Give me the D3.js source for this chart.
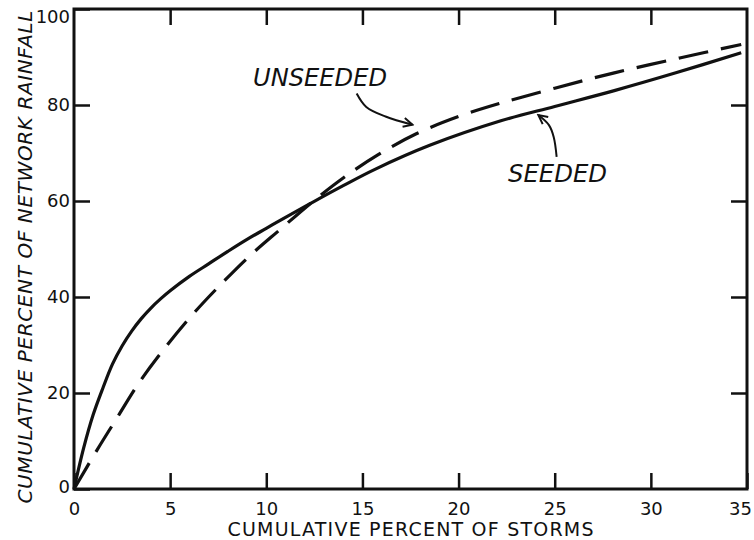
<!DOCTYPE html>
<html>
<head>
<meta charset="utf-8">
<script src="https://cdn.jsdelivr.net/npm/d3@7"></script>
<style>
  body { margin: 0; background: #fff; }
  svg { display: block; }
</style>
</head>
<body>
<div id="chart"></div>
<script>
// data (cumulative % of storms vs cumulative % of rainfall)
const seededX   = [0, 0.5, 1, 1.5, 2, 2.5, 3, 3.5, 4, 4.5, 5, 6, 7, 8, 9, 10, 11, 12.3, 14, 15.65, 18.5, 22.2, 25, 28.1, 31.3, 34.7];
const seededY   = [0, 8.5, 15.5, 21, 26, 29.8, 32.9, 35.5, 37.7, 39.6, 41.3, 44.3, 46.9, 49.5, 52, 54.3, 56.6, 59.5, 63.2, 66.6, 71.6, 76.7, 79.7, 83, 86.7, 90.9];
const unseededX = [0, 1.18, 2.25, 3.43, 4.77, 6.29, 7.85, 9.15, 10.7, 12.3, 14, 15.8, 17.8, 20, 22.2, 25, 28.1, 31.5, 34.7];
const unseededY = [0, 8, 14.9, 22.4, 29.6, 36.9, 43.5, 48.6, 54, 59.5, 64.8, 69.6, 74, 77.6, 80.4, 83.5, 86.7, 89.8, 92.6];

const xTicks = [0, 5, 10, 15, 20, 25, 30, 35];
const yTicks = [0, 20, 40, 60, 80, 100];

// annotation arrows, in data units
const unseededArrow = [[14.7, 82.4], [15.2, 79.6], [16.2, 77.6], [17.6, 75.9]];
const seededArrow   = [[25.1, 69.2], [24.95, 73.3], [24.7, 75.8], [24.15, 77.9]];

const W = 754, H = 540;
const margin = { top: 9, right: 7, bottom: 51, left: 74 };

const svg = d3.select("#chart")
  .append("svg")
  .attr("width", W)
  .attr("height", H);

const x = d3.scaleLinear().domain([0, 35]).range([margin.left, W - margin.right]);
const y = d3.scaleLinear().domain([0, 100]).range([H - margin.bottom, margin.top]);

const ink = "#111";

svg.append("defs").append("marker")
  .attr("id", "head")
  .attr("viewBox", "-10 -6 12 12")
  .attr("refX", 0).attr("refY", 0)
  .attr("markerWidth", 12).attr("markerHeight", 12)
  .attr("markerUnits", "userSpaceOnUse")
  .attr("orient", "auto")
  .append("path")
  .attr("d", "M-9,-4.5L0,0L-9,4.5")
  .attr("fill", "none")
  .attr("stroke", ink)
  .attr("stroke-width", 2);

// axes: ticks point inward on all four sides
const fontTicks = "DejaVu Sans, sans-serif";

const xAxis = svg.append("g")
  .attr("transform", `translate(0,${y(0)})`)
  .call(d3.axisBottom(x).tickValues(xTicks).tickSizeInner(-16).tickSizeOuter(0).tickPadding(13))
  .call(g => g.select(".domain").remove());
// last label sits at the page edge, pull it in a little
xAxis.selectAll(".tick text").filter(d => d === 35).attr("dx", -7);

svg.append("g")
  .attr("transform", `translate(0,${y(100)})`)
  .call(d3.axisTop(x).tickValues(xTicks.slice(1, -1)).tickSizeInner(-16).tickSizeOuter(0).tickFormat(""))
  .call(g => g.select(".domain").remove());

const yAxis = svg.append("g")
  .attr("transform", `translate(${x(0)},0)`)
  .call(d3.axisLeft(y).tickValues(yTicks).tickSizeInner(-16).tickSizeOuter(0).tickPadding(4))
  .call(g => g.select(".domain").remove());
yAxis.selectAll(".tick text").filter(d => d === 100).attr("dy", "0.75em");
yAxis.selectAll(".tick text").filter(d => d === 0).attr("dy", "0.2em");

svg.append("g")
  .attr("transform", `translate(${x(35)},0)`)
  .call(d3.axisRight(y).tickValues(yTicks.slice(1, -1)).tickSizeInner(-16).tickSizeOuter(0).tickFormat(""))
  .call(g => g.select(".domain").remove());

svg.selectAll(".tick line").attr("stroke", ink).attr("stroke-width", 2.5);
svg.selectAll(".tick text")
  .attr("fill", ink)
  .style("font-family", fontTicks)
  .style("font-size", "18px");

// frame
svg.append("rect")
  .attr("x", x(0)).attr("y", y(100))
  .attr("width", x(35) - x(0))
  .attr("height", y(0) - y(100))
  .attr("fill", "none")
  .attr("stroke", ink)
  .attr("stroke-width", 3);

const line = d3.line()
  .x(d => x(d[0]))
  .y(d => y(d[1]))
  .curve(d3.curveCatmullRom.alpha(0.5));

svg.append("path")
  .datum(d3.zip(seededX, seededY))
  .attr("d", line)
  .attr("fill", "none")
  .attr("stroke", ink)
  .attr("stroke-width", 3.2);

svg.append("path")
  .datum(d3.zip(unseededX, unseededY))
  .attr("d", line)
  .attr("fill", "none")
  .attr("stroke", ink)
  .attr("stroke-width", 3.2)
  .attr("stroke-dasharray", "30,13");

// annotations
const arrowLine = d3.line()
  .x(d => x(d[0]))
  .y(d => y(d[1]))
  .curve(d3.curveCatmullRom);

[unseededArrow, seededArrow].forEach(a => {
  svg.append("path")
    .datum(a)
    .attr("d", arrowLine)
    .attr("fill", "none")
    .attr("stroke", ink)
    .attr("stroke-width", 2)
    .attr("marker-end", "url(#head)");
});

svg.append("text")
  .attr("x", x(9.31)).attr("y", y(84))
  .attr("textLength", 134)
  .attr("lengthAdjust", "spacingAndGlyphs")
  .style("font-family", "DejaVu Sans, sans-serif")
  .style("font-style", "italic")
  .style("font-size", "24px")
  .attr("fill", ink)
  .text("UNSEEDED");

svg.append("text")
  .attr("x", x(22.57)).attr("y", y(64))
  .attr("textLength", 99)
  .attr("lengthAdjust", "spacingAndGlyphs")
  .style("font-family", "DejaVu Sans, sans-serif")
  .style("font-style", "italic")
  .style("font-size", "24px")
  .attr("fill", ink)
  .text("SEEDED");

// axis titles
svg.append("text")
  .attr("x", (x(0) + x(35)) / 2)
  .attr("y", 536)
  .attr("text-anchor", "middle")
  .attr("textLength", 366)
  .style("font-family", "DejaVu Sans, sans-serif")
  .style("font-size", "19px")
  .attr("fill", ink)
  .text("CUMULATIVE PERCENT OF STORMS");

svg.append("text")
  .attr("transform", "translate(32,257) rotate(-90)")
  .attr("text-anchor", "middle")
  .attr("textLength", 493)
  .style("font-family", "DejaVu Sans, sans-serif")
  .style("font-style", "italic")
  .style("font-size", "20px")
  .attr("fill", ink)
  .text("CUMULATIVE PERCENT OF NETWORK RAINFALL");
</script>
</body>
</html>
